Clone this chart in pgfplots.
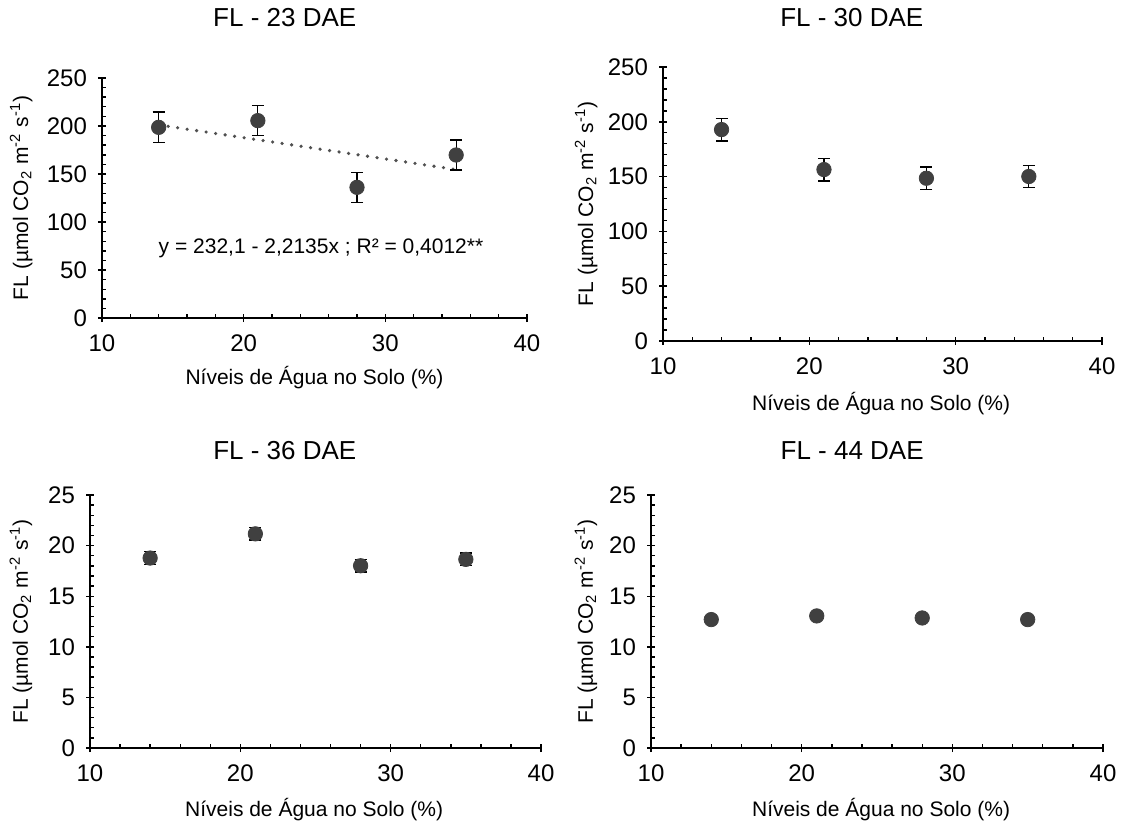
\documentclass[border=0pt]{standalone}
\usepackage{fontspec}
\setmainfont{Liberation Sans}
\usepackage{pgfplots}
\pgfplotsset{compat=1.18}
\definecolor{mk}{HTML}{404040}
\definecolor{tl}{HTML}{505050}
\pgfplotsset{
 flstyle/.style={
  scale only axis,
  anchor=south west,
  axis x line=bottom, axis y line=left,
  axis line style={-, black, line width=0.8pt},
  xmin=10, xmax=40, xtick={10,20,30,40}, minor x tick num=4,
  ymin=0, minor y tick num=4,
  tick align=inside,
  major tick length=4pt, minor tick length=2.2pt,
  every major x tick/.style={yshift=-2pt},
  every major y tick/.style={xshift=-2pt},
  tick style={black, line width=0.7pt},
  ticklabel style={font=\fontsize{12}{14}\selectfont},
  /pgf/number format/assume math mode=true,
  xticklabel style={yshift=-5pt},
  yticklabel style={xshift=-4pt},
  label style={font=\fontsize{10.5}{12}\selectfont},
  title style={font=\fontsize{13}{15}\selectfont, anchor=center},
  xlabel={Níveis de Água no Solo (\%)},
  ylabel={FL (µmol CO\textsubscript{2} m\textsuperscript{-2} s\textsuperscript{-1})},
  clip=false,
 },
 pts/.style={only marks, mark=*, mark size=3.6pt, mark options={fill=mk, draw=mk},
  error bars/.cd, y dir=both, y explicit,
  error bar style={black, line width=0.65pt},
  error mark options={rotate=90, mark size=3pt, black, line width=0.65pt}},
}
\begin{document}
\begin{tikzpicture}
\useasboundingbox (0,0) rectangle (561.5pt,-411.5pt);
% Panel 1
\begin{axis}[flstyle, at={(51pt,-159pt)}, width=212.5pt, height=120pt,
  ymax=250, ytick={0,50,100,150,200,250},
  title={FL - 23 DAE}, title style={at={(axis description cs:0.43,1.2)}},
  xlabel style={at={(axis description cs:0.5,-0.25)}, anchor=center},
  ylabel style={at={(axis description cs:-0.19,0.5)}, anchor=center}]
\addplot[tl, line width=1.8pt, line cap=round, dash pattern=on 0pt off 4.8pt] coordinates {(14,201.11) (35,154.63)};
\addplot[pts] coordinates {(14,198.6) +- (0,16) (21,205.6) +- (0,15.6) (28,136.1) +- (0,15.6) (35,169.8) +- (0,15.6)};
\node[font=\fontsize{10.5}{12}\selectfont] at (axis cs:25.46,73) {y = 232,1 - 2,2135x ; R² = 0,4012**};
\end{axis}
% Panel 2
\begin{axis}[flstyle, at={(331.5pt,-170.5pt)}, width=219.5pt, height=137pt,
  ymax=250, ytick={0,50,100,150,200,250},
  title={FL - 30 DAE}, title style={at={(axis description cs:0.43,1.135)}},
  xlabel style={at={(axis description cs:0.497,-0.23)}, anchor=center},
  ylabel style={at={(axis description cs:-0.175,0.5)}, anchor=center}]
\addplot[pts] coordinates {(14,192.9) +- (0,10.3) (21,156.4) +- (0,10.3) (28,148.5) +- (0,10.3) (35,150.1) +- (0,10.3)};
\end{axis}
% Panel 3
\begin{axis}[flstyle, at={(45pt,-374pt)}, width=225.5pt, height=126.5pt,
  ymax=25, ytick={0,5,10,15,20,25},
  title={FL - 36 DAE}, title style={at={(axis description cs:0.432,1.13)}},
  xlabel style={at={(axis description cs:0.497,-0.245)}, anchor=center},
  ylabel style={at={(axis description cs:-0.153,0.5)}, anchor=center}]
\addplot[pts] coordinates {(14,18.77) +- (0,0.62) (21,21.16) +- (0,0.62) (28,18.01) +- (0,0.62) (35,18.64) +- (0,0.62)};
\end{axis}
% Panel 4
\begin{axis}[flstyle, at={(325.5pt,-374pt)}, width=226pt, height=126.5pt,
  ymax=25, ytick={0,5,10,15,20,25},
  title={FL - 44 DAE}, title style={at={(axis description cs:0.445,1.13)}},
  xlabel style={at={(axis description cs:0.509,-0.245)}, anchor=center},
  ylabel style={at={(axis description cs:-0.144,0.5)}, anchor=center}]
\addplot[pts] coordinates {(14,12.69) +- (0,0.2) (21,13.05) +- (0,0.2) (28,12.85) +- (0,0.2) (35,12.69) +- (0,0.2)};
\end{axis}
\end{tikzpicture}
\end{document}
